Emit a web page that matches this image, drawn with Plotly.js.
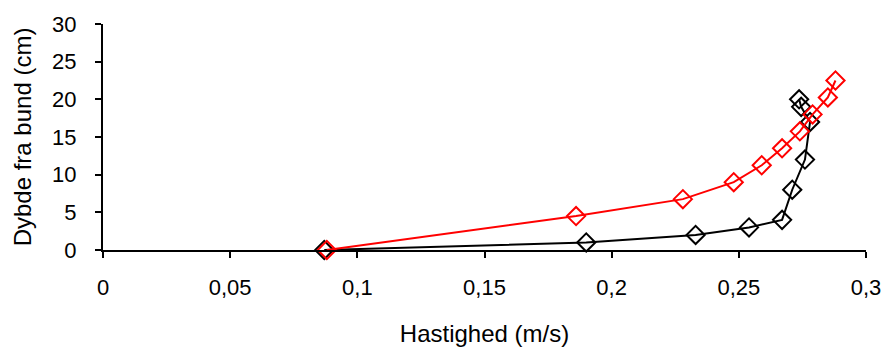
<!DOCTYPE html>
<html>
<head>
<meta charset="utf-8">
<script src="https://cdn.plot.ly/plotly-3.0.1.min.js"></script>
<style>
html,body{margin:0;padding:0;background:#fff;}
#chart{width:883px;height:349px;}
</style>
</head>
<body>
<div id="chart"></div>
<script>
// Series 1 (black)
const blackVelocity = [0.087, 0.19, 0.233, 0.254, 0.267, 0.271, 0.276, 0.278, 0.2745, 0.2737];
const blackDepth    = [0, 1, 2, 3, 4, 8, 12, 17, 19, 20];
// Series 2 (red)
const redVelocity = [0.088, 0.186, 0.228, 0.248, 0.259, 0.267, 0.274, 0.279, 0.285, 0.288];
const redDepth    = [0, 4.5, 6.75, 9, 11.25, 13.5, 15.75, 18, 20.25, 22.5];

const xTitle = 'Hastighed (m/s)';
const yTitle = 'Dybde fra bund (cm)';

const fontFam = 'Liberation Sans, Arial, sans-serif';

function series(x, y, color) {
  return {
    x: x, y: y, type: 'scatter', mode: 'lines+markers',
    line: {color: color, width: 2},
    marker: {symbol: 'diamond-open', size: 14, color: color, line: {color: color, width: 2}},
    showlegend: false, cliponaxis: false
  };
}

const data = [
  series(blackVelocity, blackDepth, '#000000'),
  series(redVelocity, redDepth, '#FF0000')
];

const layout = {
  width: 883, height: 349,
  margin: {l: 103, r: 17, t: 24, b: 98.5, pad: 0},
  paper_bgcolor: '#fff', plot_bgcolor: '#fff',
  separators: ', ',
  font: {family: fontFam, size: 22, color: '#000'},
  xaxis: {
    range: [0, 0.3], dtick: 0.05, tick0: 0,
    showgrid: false, zeroline: false,
    showline: true, linecolor: '#000', linewidth: 2,
    ticks: 'outside', ticklen: 6, tickwidth: 2, tickcolor: '#000',
    ticklabelstandoff: 11,
    tickfont: {family: fontFam, size: 22, color: '#000'},
    title: {text: xTitle, font: {family: fontFam, size: 24, color: '#000'}, standoff: 26}
  },
  yaxis: {
    range: [0, 30], dtick: 5, tick0: 0,
    showgrid: false, zeroline: false,
    showline: true, linecolor: '#000', linewidth: 2,
    ticks: 'outside', ticklen: 6, tickwidth: 2, tickcolor: '#000',
    ticklabelstandoff: 14,
    tickfont: {family: fontFam, size: 22, color: '#000'},
    title: {text: yTitle, font: {family: fontFam, size: 24, color: '#000'}, standoff: 14}
  }
};

Plotly.newPlot('chart', data, layout, {displayModeBar: false, staticPlot: true});
</script>
</body>
</html>
